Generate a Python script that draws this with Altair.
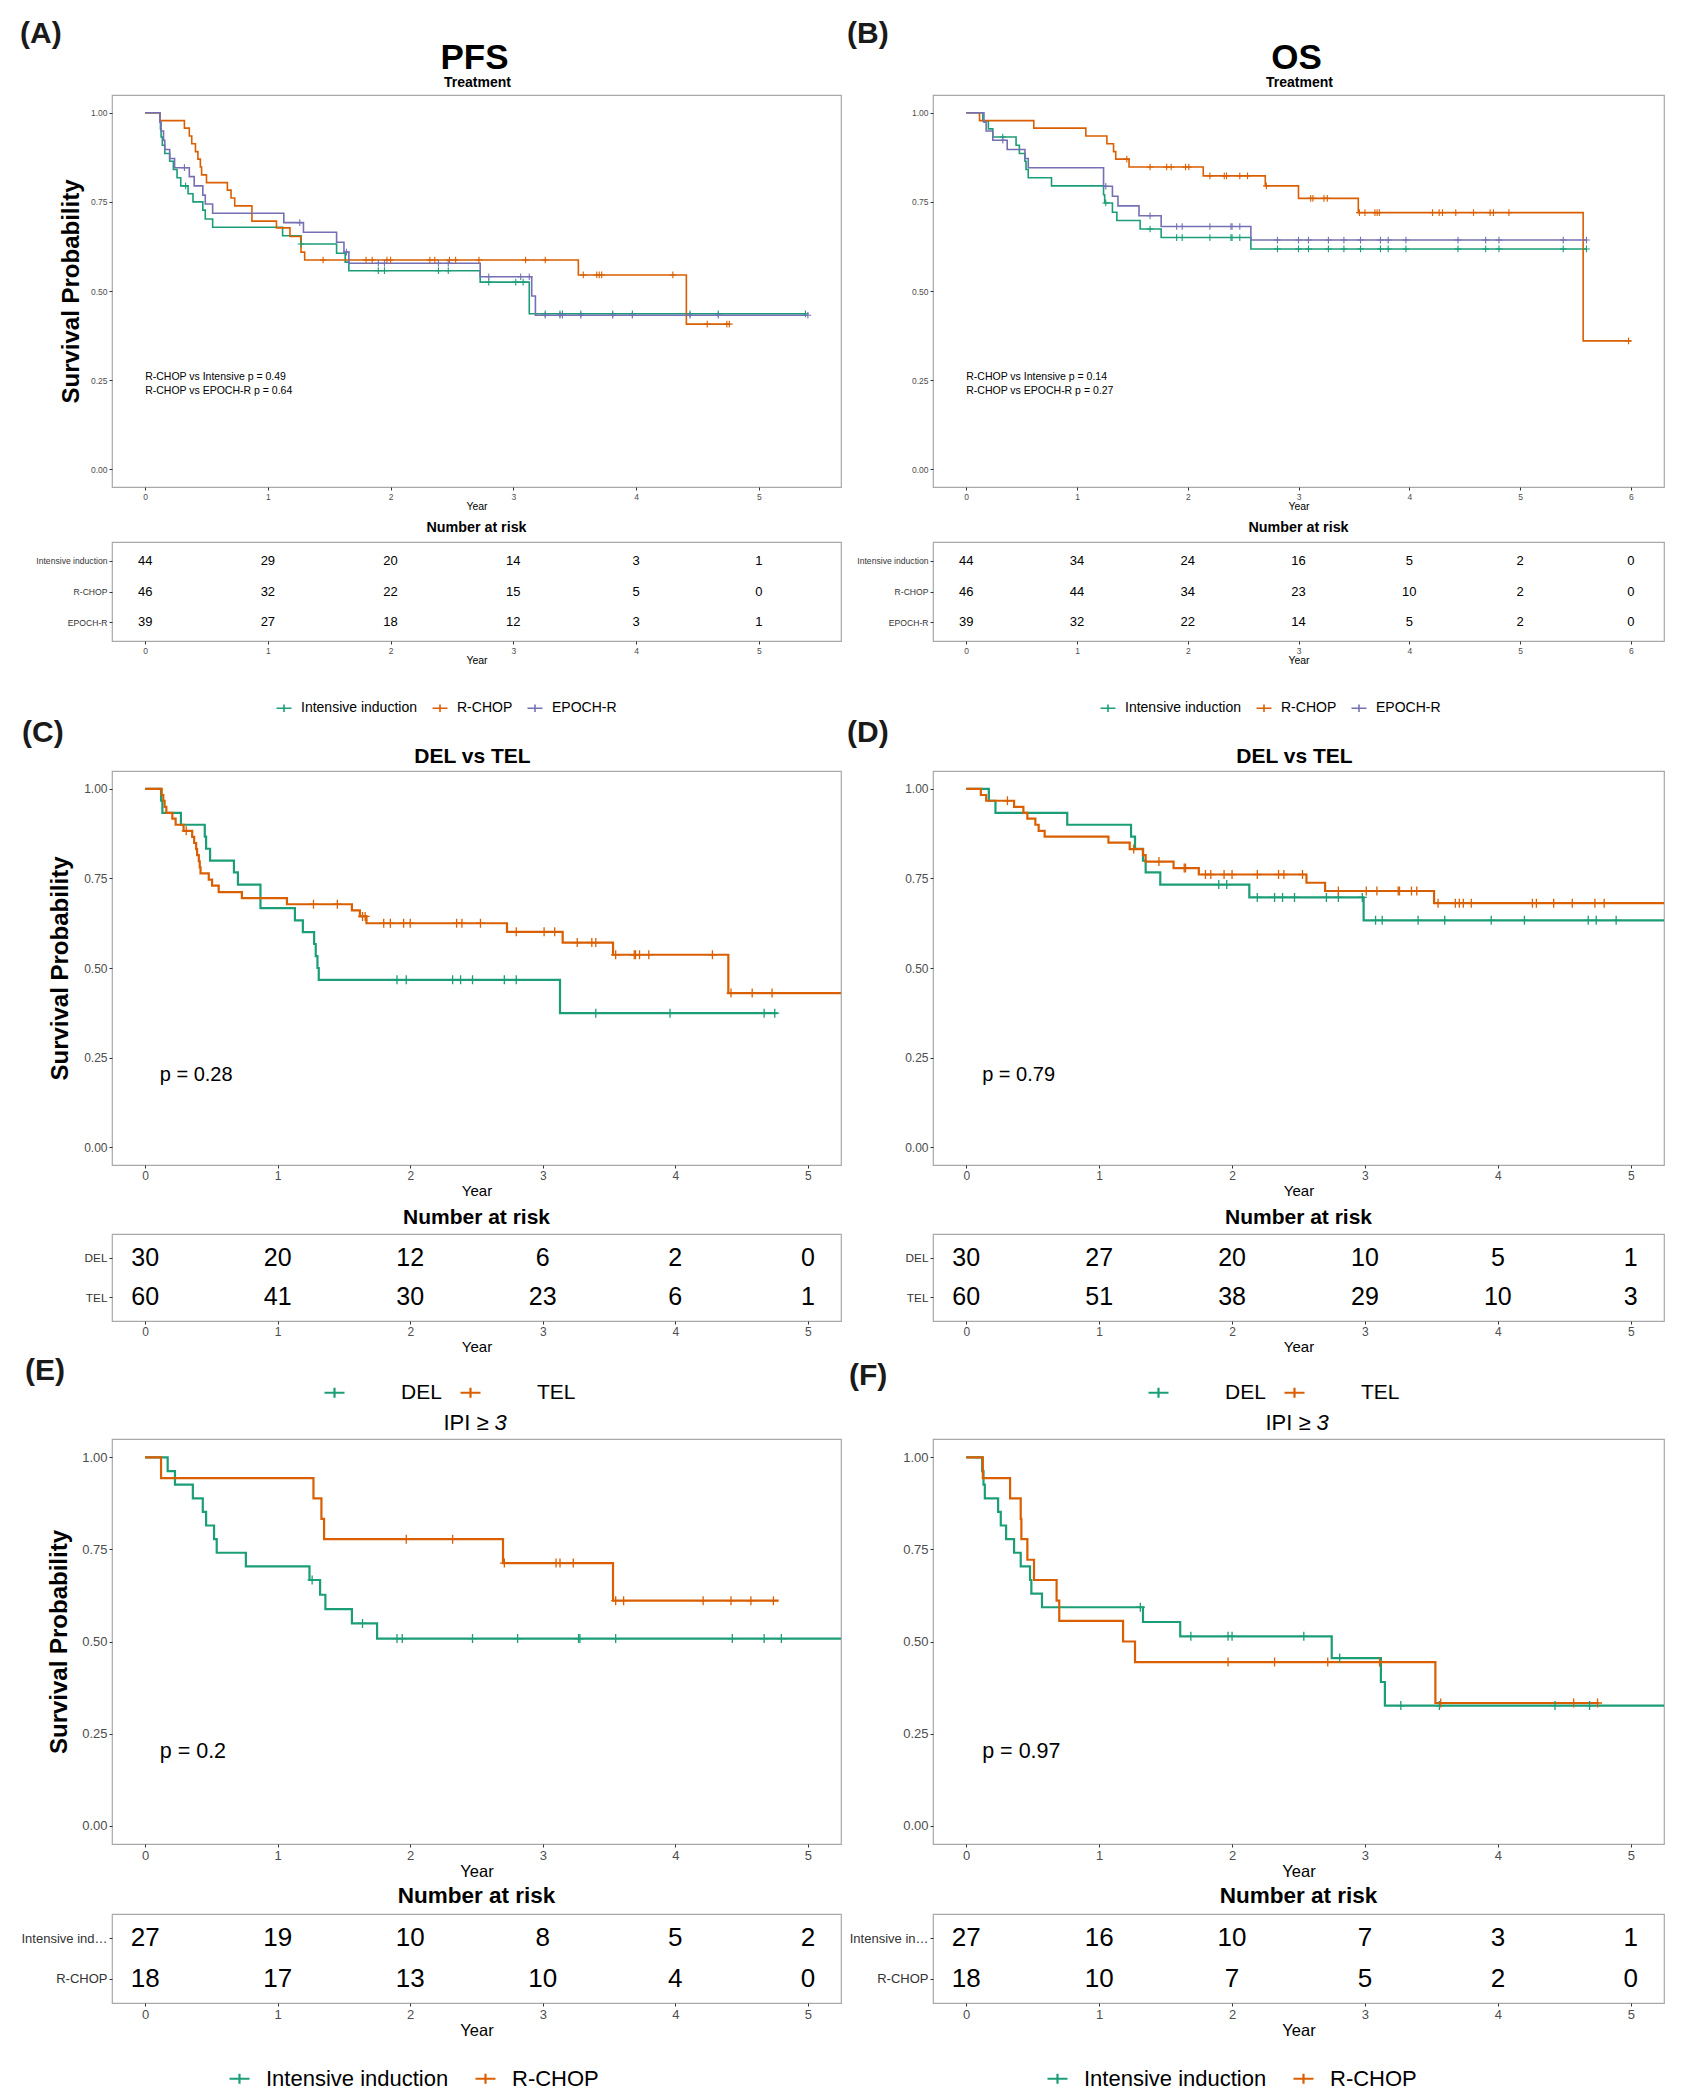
import altair as alt
import pandas as pd

FONT = "Liberation Sans"
GREEN = "#1B9E77"
ORANGE = "#D95F02"
PURPLE = "#7570B3"
PLUS = "M-1,0L1,0M0,-1L0,1"
KEY = "M-1,0L1,0M0,-0.5L0,0.5"

TREAT3 = ["Intensive induction", "R-CHOP", "EPOCH-R"]
TREAT2 = ["Intensive induction", "R-CHOP"]
DELTEL = ["DEL", "TEL"]

# ---------------- Panel A : PFS by treatment ----------------
A_int_t = [0.12, 0.125, 0.13, 0.14, 0.16, 0.20, 0.23, 0.26, 0.29, 0.35, 0.39, 0.47, 0.49, 0.55, 1.12, 1.27, 1.56, 1.63, 1.66, 2.73, 3.13]
A_int_s = [0.977, 0.955, 0.932, 0.909, 0.886, 0.864, 0.841, 0.818, 0.795, 0.773, 0.750, 0.727, 0.702, 0.679, 0.655, 0.632, 0.606, 0.581, 0.557, 0.525, 0.436]
A_int_end = 5.38
A_int_c = [0.33, 1.27, 1.90, 1.95, 2.39, 2.47, 2.80, 3.02, 3.08, 3.26, 3.38, 3.40, 3.55, 3.81, 3.97, 4.44, 4.67, 5.38]

A_rch_t = [0.12, 0.32, 0.36, 0.38, 0.41, 0.43, 0.45, 0.46, 0.50, 0.67, 0.70, 0.73, 0.87, 1.07, 1.18, 1.27, 1.30, 3.53, 4.41]
A_rch_s = [0.978, 0.957, 0.935, 0.913, 0.891, 0.870, 0.848, 0.826, 0.804, 0.783, 0.761, 0.739, 0.696, 0.677, 0.653, 0.609, 0.587, 0.545, 0.407]
A_rch_end = 4.76
A_rch_c = [1.45, 1.80, 1.85, 1.97, 2.00, 2.32, 2.36, 2.48, 2.53, 2.72, 3.10, 3.26, 3.57, 3.68, 3.70, 3.72, 4.30, 4.58, 4.74, 4.76]

A_epo_t = [0.12, 0.13, 0.15, 0.16, 0.20, 0.24, 0.36, 0.40, 0.47, 0.49, 0.55, 1.13, 1.29, 1.56, 1.62, 1.66, 2.73, 3.15, 3.18]
A_epo_s = [0.974, 0.949, 0.923, 0.897, 0.872, 0.846, 0.821, 0.795, 0.769, 0.744, 0.718, 0.692, 0.665, 0.637, 0.609, 0.578, 0.540, 0.486, 0.432]
A_epo_end = 5.40
A_epo_c = [0.32, 1.26, 1.64, 1.90, 1.95, 2.39, 2.47, 2.80, 3.06, 3.13, 3.26, 3.38, 3.40, 3.55, 3.81, 3.97, 4.44, 4.67, 5.40]

A_risk_x = [0, 1, 2, 3, 4, 5]
A_risk_int = [44, 29, 20, 14, 3, 1]
A_risk_rch = [46, 32, 22, 15, 5, 0]
A_risk_epo = [39, 27, 18, 12, 3, 1]

# ---------------- Panel B : OS by treatment ----------------
B_int_t = [0.15, 0.20, 0.24, 0.45, 0.48, 0.53, 0.54, 0.56, 0.77, 1.24, 1.25, 1.32, 1.36, 1.57, 1.76, 2.57]
B_int_s = [0.977, 0.955, 0.932, 0.909, 0.886, 0.864, 0.841, 0.818, 0.795, 0.770, 0.747, 0.721, 0.698, 0.674, 0.650, 0.618]
B_int_end = 5.60
B_int_c = [0.33, 1.26, 1.66, 1.90, 1.95, 2.20, 2.39, 2.40, 2.47, 2.81, 3.00, 3.09, 3.27, 3.41, 3.56, 3.74, 3.81, 3.97, 4.44, 4.69, 4.81, 5.39, 5.60]

B_rch_t = [0.12, 0.61, 1.08, 1.27, 1.33, 1.35, 1.47, 2.14, 2.70, 3.00, 3.54, 5.57]
B_rch_s = [0.978, 0.957, 0.935, 0.913, 0.891, 0.870, 0.848, 0.823, 0.795, 0.760, 0.720, 0.360]
B_rch_end = 6.0
B_rch_c = [1.45, 1.66, 1.81, 1.85, 1.98, 2.01, 2.20, 2.33, 2.35, 2.47, 2.54, 2.71, 3.11, 3.13, 3.23, 3.26, 3.55, 3.60, 3.69, 3.71, 3.73, 4.21, 4.27, 4.30, 4.42, 4.58, 4.73, 4.76, 4.90, 5.98]

B_epo_t = [0.16, 0.18, 0.24, 0.37, 0.53, 0.56, 1.24, 1.32, 1.37, 1.56, 1.76, 2.57]
B_epo_s = [0.974, 0.949, 0.923, 0.897, 0.872, 0.846, 0.794, 0.766, 0.739, 0.711, 0.681, 0.643]
B_epo_end = 5.60
B_epo_c = [0.33, 1.26, 1.66, 1.90, 1.95, 2.20, 2.39, 2.40, 2.47, 2.81, 3.00, 3.09, 3.27, 3.41, 3.56, 3.74, 3.81, 3.97, 4.44, 4.69, 4.81, 5.39, 5.60]

B_risk_x = [0, 1, 2, 3, 4, 5, 6]
B_risk_int = [44, 34, 24, 16, 5, 2, 0]
B_risk_rch = [46, 44, 34, 23, 10, 2, 0]
B_risk_epo = [39, 32, 22, 14, 5, 2, 0]

# ---------------- Panel C : DEL vs TEL (PFS) ----------------
C_del_t = [0.12, 0.13, 0.27, 0.45, 0.46, 0.49, 0.67, 0.70, 0.87, 1.13, 1.19, 1.275, 1.287, 1.30, 1.31, 3.13]
C_del_s = [0.967, 0.933, 0.900, 0.867, 0.833, 0.800, 0.767, 0.733, 0.667, 0.633, 0.600, 0.567, 0.533, 0.500, 0.467, 0.374]
C_del_end = 4.77
C_del_c = [1.90, 1.97, 2.32, 2.38, 2.47, 2.71, 2.80, 3.40, 3.96, 4.67, 4.75]

C_tel_t = [0.125, 0.137, 0.147, 0.16, 0.205, 0.23, 0.29, 0.355, 0.37, 0.385, 0.392, 0.405, 0.412, 0.418, 0.48, 0.505, 0.555, 0.73, 1.07, 1.56, 1.62, 1.67, 2.73, 3.15, 3.53, 4.40]
C_tel_s = [0.983, 0.967, 0.950, 0.933, 0.917, 0.900, 0.883, 0.866, 0.849, 0.832, 0.815, 0.798, 0.781, 0.764, 0.747, 0.730, 0.712, 0.695, 0.678, 0.661, 0.644, 0.625, 0.601, 0.571, 0.537, 0.430]
C_tel_end = 5.5
C_tel_c = [0.31, 1.27, 1.45, 1.64, 1.66, 1.80, 1.85, 1.95, 2.00, 2.35, 2.39, 2.53, 2.80, 3.01, 3.09, 3.26, 3.37, 3.40, 3.55, 3.69, 3.70, 3.73, 3.80, 4.28, 4.42, 4.58, 4.73]

C_risk_x = [0, 1, 2, 3, 4, 5]
C_risk_del = [30, 20, 12, 6, 2, 0]
C_risk_tel = [60, 41, 30, 23, 6, 1]

# ---------------- Panel D : DEL vs TEL (OS) ----------------
D_del_t = [0.17, 0.22, 0.76, 1.24, 1.27, 1.33, 1.35, 1.46, 2.13, 2.99]
D_del_s = [0.967, 0.933, 0.900, 0.867, 0.833, 0.800, 0.767, 0.733, 0.697, 0.633]
D_del_end = 5.5
D_del_c = [1.90, 1.96, 2.19, 2.32, 2.38, 2.47, 2.71, 2.80, 2.98, 3.08, 3.13, 3.40, 3.60, 3.95, 4.20, 4.68, 4.74, 4.89]

D_tel_t = [0.11, 0.15, 0.36, 0.43, 0.46, 0.52, 0.545, 0.59, 1.07, 1.23, 1.33, 1.35, 1.56, 1.75, 2.56, 2.70, 3.52]
D_tel_s = [0.983, 0.967, 0.950, 0.933, 0.917, 0.900, 0.883, 0.867, 0.850, 0.832, 0.815, 0.797, 0.779, 0.761, 0.738, 0.715, 0.681]
D_tel_end = 5.5
D_tel_c = [0.31, 1.26, 1.45, 1.64, 1.65, 1.80, 1.84, 1.94, 2.00, 2.19, 2.35, 2.39, 2.53, 2.80, 3.01, 3.09, 3.25, 3.26, 3.35, 3.39, 3.55, 3.68, 3.71, 3.74, 3.80, 4.26, 4.29, 4.42, 4.56, 4.73, 4.80]

D_risk_x = [0, 1, 2, 3, 4, 5]
D_risk_del = [30, 27, 20, 10, 5, 1]
D_risk_tel = [60, 51, 38, 29, 10, 3]

# ---------------- Panel E : IPI >= 3 (PFS) ----------------
E_int_t = [0.17, 0.225, 0.36, 0.435, 0.46, 0.52, 0.54, 0.76, 1.24, 1.32, 1.36, 1.56, 1.75]
E_int_s = [0.963, 0.926, 0.889, 0.852, 0.815, 0.778, 0.741, 0.704, 0.667, 0.627, 0.588, 0.549, 0.508]
E_int_end = 5.5
E_int_c = [1.26, 1.64, 1.90, 1.94, 2.47, 2.81, 3.27, 3.28, 3.55, 4.43, 4.67, 4.80]

E_rch_t = [0.12, 1.27, 1.33, 1.35, 2.70, 3.53]
E_rch_s = [0.944, 0.889, 0.833, 0.778, 0.713, 0.611]
E_rch_end = 4.78
E_rch_c = [1.97, 2.32, 2.71, 3.10, 3.13, 3.23, 3.55, 3.61, 4.21, 4.42, 4.57, 4.74]

E_risk_x = [0, 1, 2, 3, 4, 5]
E_risk_int = [27, 19, 10, 8, 5, 2]
E_risk_rch = [18, 17, 13, 10, 4, 0]

# ---------------- Panel F : IPI >= 3 (OS) ----------------
F_int_t = [0.12, 0.13, 0.14, 0.24, 0.26, 0.30, 0.36, 0.41, 0.48, 0.49, 0.57, 1.33, 1.61, 2.75, 3.12, 3.15]
F_int_s = [0.963, 0.926, 0.889, 0.852, 0.815, 0.778, 0.741, 0.704, 0.667, 0.630, 0.593, 0.553, 0.514, 0.455, 0.390, 0.326]
F_int_end = 5.5
F_int_c = [1.31, 1.69, 1.97, 2.00, 2.54, 2.81, 3.27, 3.56, 4.43, 4.69]

F_rch_t = [0.125, 0.33, 0.41, 0.415, 0.46, 0.51, 0.68, 0.70, 1.18, 1.27, 3.53]
F_rch_s = [0.944, 0.889, 0.833, 0.778, 0.722, 0.667, 0.611, 0.556, 0.500, 0.444, 0.333]
F_rch_end = 4.76
F_rch_c = [1.97, 2.32, 2.72, 3.11, 3.57, 4.57, 4.75]

F_risk_x = [0, 1, 2, 3, 4, 5]
F_risk_int = [27, 16, 10, 7, 3, 1]
F_risk_rch = [18, 10, 7, 5, 2, 0]

# ---------------- helpers ----------------
ONE = pd.DataFrame({"k": [0]})


def step_frame(curves):
    rows = []
    for g, ts, ss, end, _ in curves:
        pts = [(0.0, 1.0)] + list(zip(ts, ss)) + [(end, ss[-1])]
        for i, (t, s) in enumerate(pts):
            rows.append({"g": g, "t": t, "s": s, "i": i})
    return pd.DataFrame(rows)


def cens_frame(curves):
    rows = []
    for g, ts, ss, end, cs in curves:
        for c in cs:
            s = 1.0
            for t, v in zip(ts, ss):
                if t <= c:
                    s = v
            rows.append({"g": g, "t": c, "s": s})
    return pd.DataFrame(rows)


def label_text(txt, x, y, size, weight="normal", align="left", baseline="alphabetic", style="normal",
               color="#000000"):
    return alt.Chart(ONE).mark_text(
        align=align, baseline=baseline, fontSize=size, fontWeight=weight, fontStyle=style, color=color
    ).encode(x=alt.value(x), y=alt.value(y), text=alt.value(txt))


def km(curves, groups, colors, xdom, xticks, W, H, st, heads, ylab, ptexts):
    xs = alt.Scale(domain=xdom, nice=False, zero=False)
    ys = alt.Scale(domain=[-0.05, 1.05], nice=False, zero=False)
    cs = alt.Scale(domain=groups, range=colors)
    xaxis = alt.Axis(values=xticks, format="d", title="Year", grid=False, domain=False,
                     labelFontSize=st["tick"], labelColor="#4d4d4d", tickColor="#333333",
                     tickSize=3, labelPadding=2, titleFontSize=st["xt"], titleFontWeight="normal",
                     titleColor="#000000", titlePadding=st["xtp"])
    yargs = dict(values=[0, 0.25, 0.5, 0.75, 1.0], format=".2f", grid=False, domain=False,
                 labelFontSize=st["tick"], labelColor="#4d4d4d", tickColor="#333333",
                 tickSize=3, labelPadding=2)
    if ylab:
        yargs.update(title=ylab, titleFontSize=st["yt"], titleFontWeight="bold",
                     titleColor="#000000", titlePadding=st["ytp"])
    else:
        yargs.update(title=None)
    X = alt.X("t:Q", scale=xs, axis=xaxis)
    Y = alt.Y("s:Q", scale=ys, axis=alt.Axis(**yargs))
    C = alt.Color("g:N", scale=cs, legend=None)
    lines = alt.Chart(step_frame(curves)).mark_line(
        interpolate="step-after", strokeWidth=st["lw"], clip=True
    ).encode(x=X, y=Y, color=C, order="i:Q")
    cens = alt.Chart(cens_frame(curves)).mark_point(
        shape=PLUS, filled=False, size=st["cs"], strokeWidth=st["csw"], opacity=1, clip=True
    ).encode(x=X, y=Y, color=C)
    layers = [lines, cens]
    for txt, tx, ty in ptexts:
        layers.append(alt.Chart(ONE).mark_text(
            align="left", baseline="middle", fontSize=st["pf"], color="#000000"
        ).encode(x=alt.datum(tx), y=alt.datum(ty), text=alt.value(txt)))
    layers += heads
    return alt.layer(*layers).properties(width=W, height=H)


def table(groups, xs_list, counts, xdom, xticks, W, H, st, limit):
    rows = [{"g": g, "t": t, "n": n} for g, cnt in zip(groups, counts) for t, n in zip(xs_list, cnt)]
    df = pd.DataFrame(rows)
    return alt.Chart(df).mark_text(fontSize=st["num"], color="#000000", baseline="middle").encode(
        x=alt.X("t:Q", scale=alt.Scale(domain=xdom, nice=False, zero=False),
                axis=alt.Axis(values=xticks, format="d", title="Year", grid=False, domain=False,
                              labelFontSize=st["tick"], labelColor="#4d4d4d", tickColor="#333333",
                              tickSize=3, labelPadding=2, titleFontSize=st["txt"],
                              titleFontWeight="normal", titleColor="#000000", titlePadding=st["txtp"])),
        y=alt.Y("g:N", scale=alt.Scale(type="point", domain=groups, padding=0.6),
                axis=alt.Axis(title=None, grid=False, domain=False, labelFontSize=st["rl"],
                              labelColor="#333333", tickColor="#333333", tickSize=3, labelPadding=2,
                              labelLimit=limit)),
        text="n:Q",
    ).properties(width=W, height=H, title=alt.TitleParams(
        "Number at risk", fontSize=st["rt"], fontWeight="bold", anchor="middle", color="#000000",
        offset=st["rtoff"], frame="group"))


def legend_cell(groups, colors, W, H, st, lx, ly):
    return alt.Chart(pd.DataFrame({"g": groups})).mark_point(opacity=0, filled=False).encode(
        x=alt.value(0), y=alt.value(0),
        color=alt.Color("g:N", scale=alt.Scale(domain=groups, range=colors), legend=alt.Legend(
            title=None, orient="none", direction="horizontal", legendX=lx, legendY=ly,
            symbolType=KEY, symbolSize=st["ks"], symbolStrokeWidth=st["ksw"], symbolOpacity=1,
            symbolFillColor="transparent", labelFontSize=st["lf"], labelColor="#000000",
            labelOffset=st["lo"], columnPadding=st["cp"], labelLimit=500, padding=0)),
    ).properties(width=W, height=H, view=alt.ViewBackground(stroke="transparent"))


def spacer(W, H):
    return alt.Chart(ONE).mark_point(opacity=0).encode(
        x=alt.value(0), y=alt.value(0)
    ).properties(width=W, height=H, view=alt.ViewBackground(stroke="transparent"))


ST1 = dict(tick=8.5, xt=10.5, xtp=1, yt=24, ytp=7, lw=1.6, cs=45, csw=1.1, pf=10.5, num=13, rl=8.6,
           rt=14.3, rtoff=7, txt=10.5, txtp=1, lf=14, ks=225, ksw=1.6, lo=8.5, cp=11)
ST2 = dict(tick=12, xt=15, xtp=2, yt=24, ytp=11, lw=2.2, cs=81, csw=1.3, pf=20, num=25, rl=11.8,
           rt=21, rtoff=6, txt=15, txtp=2, lf=21, ks=400, ksw=2.2, lo=55, cp=14)
ST3 = dict(tick=13, xt=16.5, xtp=1, yt=24, ytp=10, lw=2.2, cs=81, csw=1.3, pf=21.5, num=26, rl=13,
           rt=22.5, rtoff=7, txt=16.5, txtp=1, lf=22, ks=400, ksw=2.2, lo=15, cp=22)

WL, WR = 729, 731
C3 = [GREEN, ORANGE, PURPLE]
C2 = [GREEN, ORANGE]


def heads_top(panel, name, W, ldx, ldy):
    return [
        label_text(panel, ldx, ldy, 30, weight="bold", baseline="top", color="#1a1a1a"),
        label_text(name, W / 2 - 2, -26, 35, weight="bold", align="center"),
        label_text("Treatment", W / 2 + 1, -8, 14, weight="bold", align="center"),
    ]


def heads_mid(panel, W, ldx, ldy):
    return [
        label_text(panel, ldx, ldy, 30, weight="bold", baseline="top", color="#1a1a1a"),
        label_text("DEL vs TEL", W / 2 - 4, -8.5, 21, weight="bold", align="center"),
    ]


def heads_bot(panel, W, ldx, ldy):
    return [
        label_text(panel, ldx, ldy, 30, weight="bold", baseline="top", color="#1a1a1a"),
        label_text("IPI ≥", W / 2 + 12, -9, 22, align="right"),
        label_text("3", W / 2 + 18, -9, 22, align="left", style="italic"),
    ]


A_curves = [("Intensive induction", A_int_t, A_int_s, A_int_end, A_int_c),
            ("R-CHOP", A_rch_t, A_rch_s, A_rch_end, A_rch_c),
            ("EPOCH-R", A_epo_t, A_epo_s, A_epo_end, A_epo_c)]
B_curves = [("Intensive induction", B_int_t, B_int_s, B_int_end, B_int_c),
            ("R-CHOP", B_rch_t, B_rch_s, B_rch_end, B_rch_c),
            ("EPOCH-R", B_epo_t, B_epo_s, B_epo_end, B_epo_c)]
C_curves = [("DEL", C_del_t, C_del_s, C_del_end, C_del_c), ("TEL", C_tel_t, C_tel_s, C_tel_end, C_tel_c)]
D_curves = [("DEL", D_del_t, D_del_s, D_del_end, D_del_c), ("TEL", D_tel_t, D_tel_s, D_tel_end, D_tel_c)]
E_curves = [("Intensive induction", E_int_t, E_int_s, E_int_end, E_int_c),
            ("R-CHOP", E_rch_t, E_rch_s, E_rch_end, E_rch_c)]
F_curves = [("Intensive induction", F_int_t, F_int_s, F_int_end, F_int_c),
            ("R-CHOP", F_rch_t, F_rch_s, F_rch_end, F_rch_c)]

XA = [-0.27, 5.67]
XB = [-0.3, 6.3]
X5 = [-0.25, 5.25]
T5 = [0, 1, 2, 3, 4, 5]
T6 = [0, 1, 2, 3, 4, 5, 6]

kmA = km(A_curves, TREAT3, C3, XA, T5, WL, 392, ST1, heads_top("(A)", "PFS", WL, -92, -76),
         "Survival Probability",
         [("R-CHOP vs Intensive p = 0.49", 0.0, 0.26), ("R-CHOP vs EPOCH-R p = 0.64", 0.0, 0.218)])
kmB = km(B_curves, TREAT3, C3, XB, T6, WR, 392, ST1, heads_top("(B)", "OS", WR, -86, -76), None,
         [("R-CHOP vs Intensive p = 0.14", 0.0, 0.26), ("R-CHOP vs EPOCH-R p = 0.27", 0.0, 0.218)])
tA = table(TREAT3, A_risk_x, [A_risk_int, A_risk_rch, A_risk_epo], XA, T5, WL, 99, ST1, 200)
tB = table(TREAT3, B_risk_x, [B_risk_int, B_risk_rch, B_risk_epo], XB, T6, WR, 99, ST1, 200)
lA = legend_cell(TREAT3, C3, WL, 130, ST1, 163.5, 58.5)
lB = legend_cell(TREAT3, C3, WR, 130, ST1, 166.5, 58.5)

kmC = km(C_curves, DELTEL, C2, X5, T5, WL, 394, ST2, heads_mid("(C)", WL, -90, -53),
         "Survival Probability", [("p = 0.28", 0.11, 0.2)])
kmD = km(D_curves, DELTEL, C2, X5, T5, WR, 394, ST2, heads_mid("(D)", WR, -86, -53), None,
         [("p = 0.79", 0.12, 0.2)])
tC = table(DELTEL, C_risk_x, [C_risk_del, C_risk_tel], X5, T5, WL, 87, ST2, 200)
tD = table(DELTEL, D_risk_x, [D_risk_del, D_risk_tel], X5, T5, WR, 87, ST2, 200)
lC = legend_cell(DELTEL, C2, WL, 118, ST2, 211, 60)
lD = legend_cell(DELTEL, C2, WR, 118, ST2, 214, 60)

kmE = km(E_curves, TREAT2, C2, X5, T5, WL, 405, ST3, heads_bot("(E)", WL, -87, -83),
         "Survival Probability", [("p = 0.2", 0.11, 0.2)])
kmF = km(F_curves, TREAT2, C2, X5, T5, WR, 405, ST3, heads_bot("(F)", WR, -84, -78), None,
         [("p = 0.97", 0.12, 0.2)])
tE = table(TREAT2, E_risk_x, [E_risk_int, E_risk_rch], X5, T5, WL, 89, ST3, 87)
tF = table(TREAT2, F_risk_x, [F_risk_int, F_risk_rch], X5, T5, WR, 89, ST3, 84)
lE = legend_cell(TREAT2, C2, WL, 80, ST3, 116, 64)
lF = legend_cell(TREAT2, C2, WR, 80, ST3, 113, 64)

cells = [kmA, kmB, spacer(WL, 55), spacer(WR, 55), tA, tB, lA, lB,
         kmC, kmD, spacer(WL, 69), spacer(WR, 69), tC, tD, lC, lD,
         kmE, kmF, spacer(WL, 70), spacer(WR, 70), tE, tF, lE, lF]

chart = alt.concat(
    *cells, columns=2, spacing={"row": 0, "column": 92}, bounds="flush", align="each",
    padding={"left": 11, "top": 10, "right": 5, "bottom": 5},
).resolve_scale(color="independent", x="independent", y="independent").resolve_legend(
    color="independent"
).configure(font=FONT, background="white").configure_view(stroke="#a8a8a8", strokeWidth=1.2)

chart.save("out.html", embed_options={"renderer": "svg", "actions": False})
